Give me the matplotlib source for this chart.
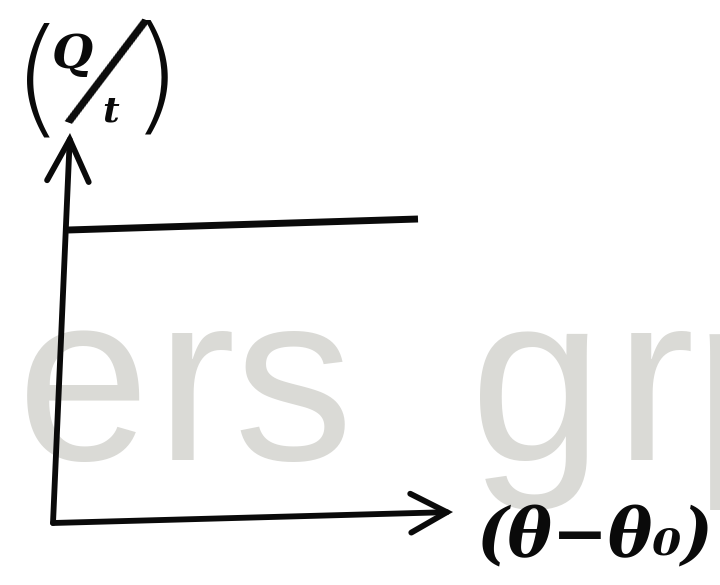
import matplotlib
matplotlib.use("Agg")
import matplotlib.pyplot as plt

# sketch coordinates, in pixels of the 720x585 picture (y down)
y_axis_x = [53, 70]
y_axis_y = [523, 133]
x_axis_x = [53, 453]
x_axis_y = [523, 512]
level_x = [68, 418]
level_y = [230, 219]

watermark_letters = ["p", "e", "r", "s", "g", "r", "p"]
watermark_centers = [-58, 83, 196, 293, 536, 655, 760]
x_label = "(θ−θ₀)"

fig = plt.figure(figsize=(7.2, 5.85), dpi=100)
ax = fig.add_axes([0, 0, 1, 1])
ax.set_xlim(0, 720)
ax.set_ylim(585, 0)
ax.axis("off")

# faint watermark behind the drawing
for ch, cx in zip(watermark_letters, watermark_centers):
    ax.text(cx, 460, ch, fontsize=172, family="Liberation Sans",
            color="#dadad6", ha="center", va="baseline", zorder=0)

ink = "#0a0a0a"


def arrow(xs, ys, hl, hw):
    ax.annotate("", xy=(xs[1], ys[1]), xytext=(xs[0], ys[0]),
                arrowprops=dict(arrowstyle=f"->,head_length={hl},head_width={hw}",
                                lw=4.2, color=ink, shrinkA=0, shrinkB=0,
                                capstyle="round", joinstyle="miter"),
                zorder=3)


arrow(y_axis_x, y_axis_y, 3.0, 1.5)
arrow(x_axis_x, x_axis_y, 2.6, 1.4)

ax.plot(level_x, level_y, color=ink, lw=5, solid_capstyle="butt", zorder=3)

# y label (Q/t), hand lettered
ax.text(38, 85, "(", fontsize=92, family="DejaVu Sans", fontweight="light",
        color=ink, ha="center", va="center")
ax.text(156, 82, ")", fontsize=92, family="DejaVu Sans", fontweight="light",
        color=ink, ha="center", va="center")
ax.text(72, 55, "Q", fontsize=34, family="DejaVu Serif", style="italic",
        fontweight="bold", color=ink, ha="center", va="center")
ax.text(104, 77, "/", fontsize=108, family="DejaVu Sans",
        fontweight=200, rotation=-20, color=ink,
        ha="center", va="center")
ax.text(111, 112, "t", fontsize=26, family="DejaVu Serif", style="italic",
        fontweight="bold", color=ink, ha="center", va="center")

# x label
ax.text(477, 538, x_label, fontsize=48, family="DejaVu Serif", style="italic",
        fontweight="bold", color=ink, ha="left", va="center")

fig.savefig("out.png", dpi=100, facecolor="white")
